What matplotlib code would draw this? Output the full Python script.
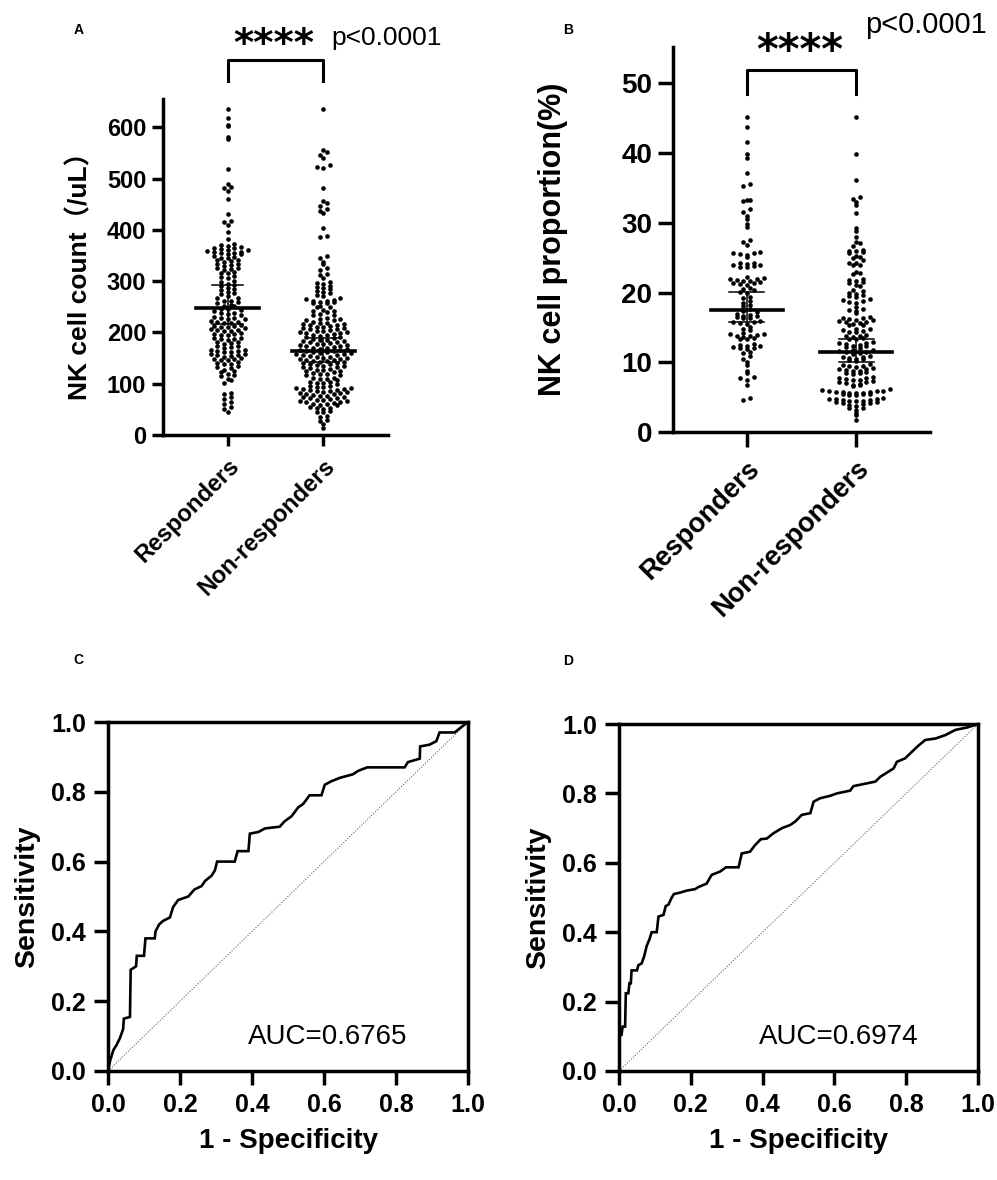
"""NK cell count / proportion dot plots and ROC curves"""

import numpy as np
import matplotlib
matplotlib.use('Agg')
import matplotlib.pyplot as plt

plt.rcParams['font.family'] = ['Liberation Sans', 'Noto Sans CJK SC', 'DejaVu Sans']

W, H = 997, 1180

groups = ['Responders', 'Non-responders']

# panel A: NK cell count (/uL)
a_resp = [636, 617, 605, 602, 581, 577, 518, 490, 484, 481, 475, 461, 430, 417, 416, 410, 396, 382,
          373, 371, 369, 367, 365, 364, 363, 361, 360, 359, 357, 356, 355, 354, 353, 352,
          349, 347, 346, 345, 342, 341, 339, 338, 334, 333, 331, 330, 326, 325, 323, 322,
          318, 316, 315, 310, 308, 307, 301, 299, 294, 292, 291, 286, 284, 283, 278, 276, 275,
          270, 268, 267, 262, 261, 259, 258, 254, 252, 251, 246, 245, 243, 242, 238, 237, 235, 234,
          230, 229, 228, 227, 226, 222, 221, 220, 219, 218, 214, 213, 212, 211, 210, 209,
          206, 205, 204, 203, 202, 198, 197, 196, 195, 194, 190, 189, 188, 187, 186,
          182, 181, 179, 178, 174, 173, 171, 170, 166, 165, 164, 163, 162, 161,
          158, 157, 156, 155, 154, 153, 150, 149, 148, 147, 146, 142, 141, 139, 138,
          134, 132, 131, 126, 124, 123, 118, 116, 115, 110, 107, 101, 82, 79, 74, 71, 64, 61, 54, 51, 45]
a_non = [636, 555, 551, 546, 540, 527, 523, 520, 481, 457, 452, 446, 440, 436, 432, 403, 388, 386,
         348, 345, 338, 334, 325, 322, 314, 311, 306, 298, 296, 294, 290, 288, 286, 285, 280, 278, 276,
         272, 270, 268, 266, 264, 262, 261, 260, 259, 258, 257, 252, 250, 249, 244, 242, 241, 240,
         236, 234, 233, 228, 227, 226, 225, 224, 220, 219, 218, 217, 216, 215, 214, 213,
         211, 210, 209, 208, 207, 206, 205, 203, 202, 201, 200, 199, 198, 197,
         195, 194, 193, 192, 191, 190, 187, 186, 185, 184, 183, 182, 181,
         179, 178, 177, 176, 175, 174, 173, 172, 170, 169, 168, 167, 166, 165, 164, 163,
         162, 161, 160, 159, 158, 157, 156, 155, 154, 153, 152, 151, 150, 149, 148, 147, 146,
         145, 144, 143, 142, 141, 140, 139, 138, 136, 135, 134, 133, 132, 131,
         128, 127, 126, 125, 124, 123, 120, 119, 118, 117, 116, 112, 111, 110, 109, 108,
         104, 103, 102, 101, 100, 96, 95, 94, 93, 92, 91, 90, 89,
         88, 87, 86, 85, 84, 83, 82, 81, 80, 79, 78, 77, 76, 75, 74, 73, 72,
         70, 69, 68, 67, 66, 65, 64, 62, 61, 60, 59, 58, 54, 53, 52, 51, 46, 45, 44, 38, 36, 30, 28, 22, 14]
a_median = [247, 163.5]
a_ci_low = [217, 143]
a_ci_high = [293, 190]

# panel B: NK cell proportion (%)
b_resp = [45.1, 43.8, 41.6, 39.9, 39.3, 37.1, 35.6, 35.3, 33.3, 33.2, 33.1, 32.0, 31.6, 30.9, 30.6,
          29.8, 29.4, 27.5, 27.3, 26.8, 25.8, 25.7, 25.6, 25.5, 25.4, 25.1, 24.3, 24.2, 24.1, 24.0,
          23.9, 23.8, 23.7, 23.6, 22.2, 22.1, 22.0, 21.9, 21.8, 21.7, 21.6, 21.5, 21.4, 21.3, 21.2, 21.1,
          20.6, 20.5, 20.3, 20.1, 20.0, 19.4, 19.2, 18.8, 18.5, 18.2, 18.0, 17.7, 17.4, 17.2,
          16.9, 16.8, 16.7, 16.6, 16.5, 16.4, 16.3, 15.9, 15.8, 15.7, 15.6, 15.5, 15.0, 14.8, 14.6,
          14.2, 14.1, 14.0, 13.9, 13.8, 13.7, 13.6, 13.5, 13.4, 13.3,
          12.6, 12.5, 12.4, 12.3, 12.2, 12.1, 12.0, 11.9, 11.4, 11.3, 10.9, 10.5, 10.0, 9.6,
          8.8, 8.5, 7.9, 7.7, 7.4, 6.7, 4.9, 4.6]
b_non = [45.2, 39.8, 36.2, 33.7, 33.4, 33.0, 32.6, 31.4, 29.3, 28.8, 27.9, 27.2, 27.1, 26.6,
         26.1, 26.0, 25.9, 25.8, 25.6, 25.3, 25.1, 24.9, 24.6, 24.3, 24.2, 24.0, 23.9,
         23.0, 22.8, 22.6, 22.0, 21.8, 21.7, 21.5, 21.3, 21.1, 20.9,
         20.4, 20.2, 20.0, 19.8, 19.6, 19.5, 19.3, 19.1, 18.9, 18.8, 18.6, 18.5,
         17.9, 17.7, 17.5, 17.3, 17.1, 16.5, 16.4, 16.3, 16.2, 16.1, 16.0, 15.9, 15.8, 15.7, 15.6,
         15.5, 15.4, 15.3, 14.8, 14.7, 14.6, 14.5, 14.4, 14.3, 13.9, 13.8, 13.7, 13.6, 13.5, 13.4, 13.3,
         12.9, 12.8, 12.7, 12.6, 12.5, 12.4, 12.3, 12.2, 12.1, 11.8, 11.7, 11.6, 11.5, 11.4, 11.3, 11.2,
         10.9, 10.8, 10.7, 10.6, 10.5, 10.4, 10.3, 10.2,
         9.7, 9.6, 9.5, 9.4, 9.3, 9.2, 9.1, 9.0, 8.9, 8.8, 8.7, 8.6, 8.5, 8.4, 8.3,
         7.9, 7.8, 7.7, 7.6, 7.5, 7.4, 7.3, 7.2, 7.1, 7.0, 6.9, 6.8, 6.7, 6.6,
         6.1, 6.0, 5.95, 5.9, 5.85, 5.8, 5.75, 5.7, 5.65, 5.6, 5.55, 5.5, 5.45, 5.4, 5.35, 5.3,
         4.9, 4.8, 4.75, 4.7, 4.65, 4.6, 4.5, 4.45, 4.4, 4.3, 4.25, 4.2, 4.1, 4.0,
         3.9, 3.7, 3.5, 3.4, 3.2, 2.7, 2.4, 1.7]
b_median = [17.5, 11.5]
b_ci_low = [15.7, 10.1]
b_ci_high = [20.1, 13.4]

# panels C and D: ROC curves
roc_c_fpr = [0.0, 0.006, 0.015, 0.024, 0.033, 0.042, 0.044, 0.061, 0.063, 0.078, 0.08, 0.10, 0.104,
             0.13, 0.132, 0.142, 0.153, 0.172, 0.181, 0.195, 0.223, 0.24, 0.26, 0.27, 0.288, 0.297,
             0.303, 0.352, 0.36, 0.39, 0.394, 0.418, 0.436, 0.477, 0.49, 0.51, 0.528, 0.542, 0.56,
             0.593, 0.602, 0.62, 0.644, 0.68, 0.695, 0.72, 0.824, 0.833, 0.866, 0.867, 0.893, 0.912,
             0.921, 0.963, 0.981, 1.0]
roc_c_tpr = [0.0, 0.03, 0.06, 0.075, 0.094, 0.12, 0.15, 0.155, 0.29, 0.30, 0.33, 0.33, 0.38,
             0.38, 0.40, 0.42, 0.43, 0.44, 0.47, 0.49, 0.50, 0.52, 0.53, 0.545, 0.56, 0.575,
             0.60, 0.60, 0.63, 0.63, 0.68, 0.685, 0.695, 0.70, 0.715, 0.73, 0.755, 0.765, 0.79,
             0.79, 0.82, 0.83, 0.84, 0.85, 0.86, 0.87, 0.87, 0.885, 0.895, 0.93, 0.935, 0.945,
             0.97, 0.97, 0.985, 1.0]
roc_d_fpr = [0.0, 0.001, 0.007, 0.01, 0.017, 0.019, 0.026, 0.029, 0.033, 0.035, 0.05, 0.054, 0.063,
             0.07, 0.077, 0.085, 0.091, 0.105, 0.11, 0.124, 0.13, 0.138, 0.147, 0.153, 0.17, 0.189,
             0.212, 0.221, 0.244, 0.258, 0.282, 0.298, 0.333, 0.342, 0.365, 0.379, 0.395, 0.412,
             0.43, 0.454, 0.477, 0.491, 0.509, 0.533, 0.542, 0.56, 0.588, 0.607, 0.644, 0.653,
             0.691, 0.714, 0.728, 0.751, 0.765, 0.774, 0.797, 0.811, 0.83, 0.853, 0.881, 0.909,
             0.937, 0.97, 1.0]
roc_d_tpr = [0.0, 0.104, 0.104, 0.128, 0.128, 0.224, 0.224, 0.253, 0.253, 0.29, 0.29, 0.305, 0.31,
             0.33, 0.36, 0.38, 0.40, 0.40, 0.445, 0.45, 0.475, 0.48, 0.50, 0.51, 0.514, 0.52,
             0.524, 0.53, 0.54, 0.565, 0.575, 0.587, 0.587, 0.627, 0.632, 0.651, 0.668, 0.67,
             0.685, 0.70, 0.709, 0.719, 0.738, 0.743, 0.776, 0.786, 0.793, 0.80, 0.808, 0.821,
             0.829, 0.834, 0.848, 0.863, 0.872, 0.891, 0.901, 0.915, 0.934, 0.954, 0.958, 0.968,
             0.983, 0.99, 1.0]
auc_c = 0.6765
auc_d = 0.6974

fig = plt.figure(figsize=(W / 100, H / 100), dpi=100)


def px_axes(left, top, right, bottom):
    return fig.add_axes([left / W, 1 - bottom / H, (right - left) / W, (bottom - top) / H])


def fig_text(x, y, s, **kw):
    return fig.text(x / W, 1 - y / H, s, **kw)


def swarm_x(vals, pos, ax, row_px=4.3, gap_px=6.8):
    # GraphPad-like rows: points falling in the same row are spread sideways
    vals = np.asarray(vals, float)
    bb = ax.get_position()
    ylo, yhi = ax.get_ylim()
    xlo, xhi = ax.get_xlim()
    per_y = (yhi - ylo) / (bb.height * H)
    per_x = (xhi - xlo) / (bb.width * W)
    rows = np.floor(vals / (row_px * per_y)).astype(int)
    xs = np.full(len(vals), float(pos))
    for r in np.unique(rows):
        idx = np.where(rows == r)[0]
        n = len(idx)
        offs = (np.arange(n) - (n - 1) / 2.0) * gap_px * per_x
        offs = offs[np.argsort(np.abs(offs), kind='stable')]
        order = idx[np.argsort(vals[idx])]
        xs[order] = pos + offs
    return xs


def dot_panel(ax, data, med, lo, hi, ylim, yticks, tick_fs, lab_fs, tick_len):
    ax.set_xlim(-0.675, 1.675)
    ax.set_ylim(*ylim)
    for i, vals in enumerate(data):
        ax.scatter(swarm_x(vals, i, ax), vals, s=11, color='black', linewidths=0, zorder=3)
        ax.plot([i - 0.33, i + 0.33], [med[i], med[i]], color='black', lw=2.6, zorder=4)
        ax.plot([i - 0.16, i + 0.16], [lo[i], lo[i]], color='black', lw=1.1, zorder=4)
        ax.plot([i - 0.16, i + 0.16], [hi[i], hi[i]], color='black', lw=1.1, zorder=4)
        ax.plot([i, i], [lo[i], hi[i]], color='black', lw=1.1, zorder=4)
    for s in ['top', 'right']:
        ax.spines[s].set_visible(False)
    for s in ['left', 'bottom']:
        ax.spines[s].set_linewidth(2.5)
    ax.set_yticks(yticks)
    ax.set_xticks([0, 1])
    ax.set_xticklabels(groups, rotation=45, ha='right', rotation_mode='anchor',
                       fontsize=lab_fs, fontweight='bold')
    ax.tick_params(axis='both', width=2.5, length=tick_len, direction='out')
    ax.tick_params(axis='y', labelsize=tick_fs, pad=4)
    ax.tick_params(axis='x', pad=6)
    for t in ax.get_yticklabels():
        t.set_fontweight('bold')


def roc_panel(ax, fpr, tpr, auc):
    ax.plot([0, 1], [0, 1], color='#666666', lw=0.8, ls=(0, (1, 1.5)))
    ax.plot(fpr, tpr, color='black', lw=1.9, solid_joinstyle='miter')
    ax.set_xlim(0, 1)
    ax.set_ylim(0, 1)
    ticks = [0.0, 0.2, 0.4, 0.6, 0.8, 1.0]
    ax.set_xticks(ticks)
    ax.set_yticks(ticks)
    ax.set_xticklabels(['%.1f' % t for t in ticks], fontsize=18, fontweight='bold')
    ax.set_yticklabels(['%.1f' % t for t in ticks], fontsize=18, fontweight='bold')
    ax.tick_params(axis='both', width=2.5, length=10, direction='out', pad=6)
    for s in ax.spines.values():
        s.set_linewidth(2.5)
    ax.set_xlabel('1 - Specificity', fontsize=20, fontweight='bold', labelpad=8)
    ax.set_ylabel('Sensitivity', fontsize=20.5, fontweight='bold', labelpad=8)
    ax.text(0.39, 0.097, 'AUC=%.4f' % auc, transform=ax.transData, fontsize=20,
            ha='left', va='center')


# ---- A ----
axA = px_axes(163, 99, 388, 435)
dot_panel(axA, [a_resp, a_non], a_median, a_ci_low, a_ci_high, (0, 655),
          [0, 100, 200, 300, 400, 500, 600], 17, 17, 8)
fig_text(80, 269, 'NK cell count（/uL）', rotation=90, fontsize=19, fontweight='bold',
         ha='center', va='center')
axA.plot([0, 0, 1, 1], [691, 731, 731, 691], color='black', lw=2.2, clip_on=False)
fig_text(274, 56, '****', fontsize=28, fontweight='bold', ha='center', va='baseline',
         family='DejaVu Sans')
fig_text(331, 45, 'p<0.0001', fontsize=19, ha='left', va='baseline')
fig_text(79, 30, 'A', fontsize=10, fontweight='bold', ha='center', va='center')

# ---- B ----
axB = px_axes(673, 47, 930, 432)
dot_panel(axB, [b_resp, b_non], b_median, b_ci_low, b_ci_high, (0, 55.2),
          [0, 10, 20, 30, 40, 50], 20, 19.5, 11)
fig_text(553, 239, 'NK cell proportion(%)', rotation=90, fontsize=22, fontweight='bold',
         ha='center', va='center')
axB.plot([0, 0, 1, 1], [48.4, 51.9, 51.9, 48.4], color='black', lw=2.2, clip_on=False)
fig_text(800, 64, '****', fontsize=30, fontweight='bold', ha='center', va='baseline',
         family='DejaVu Sans')
fig_text(865, 33, 'p<0.0001', fontsize=21, ha='left', va='baseline')
fig_text(568, 30, 'B', fontsize=10, fontweight='bold', ha='center', va='center')

# ---- C ----
axC = px_axes(108, 722, 468, 1071)
roc_panel(axC, roc_c_fpr, roc_c_tpr, auc_c)
fig_text(78, 660, 'C', fontsize=10, fontweight='bold', ha='center', va='center')

# ---- D ----
axD = px_axes(619, 724, 978, 1071)
roc_panel(axD, roc_d_fpr, roc_d_tpr, auc_d)
fig_text(568, 661, 'D', fontsize=10, fontweight='bold', ha='center', va='center')

fig.savefig('out.png', dpi=100)
